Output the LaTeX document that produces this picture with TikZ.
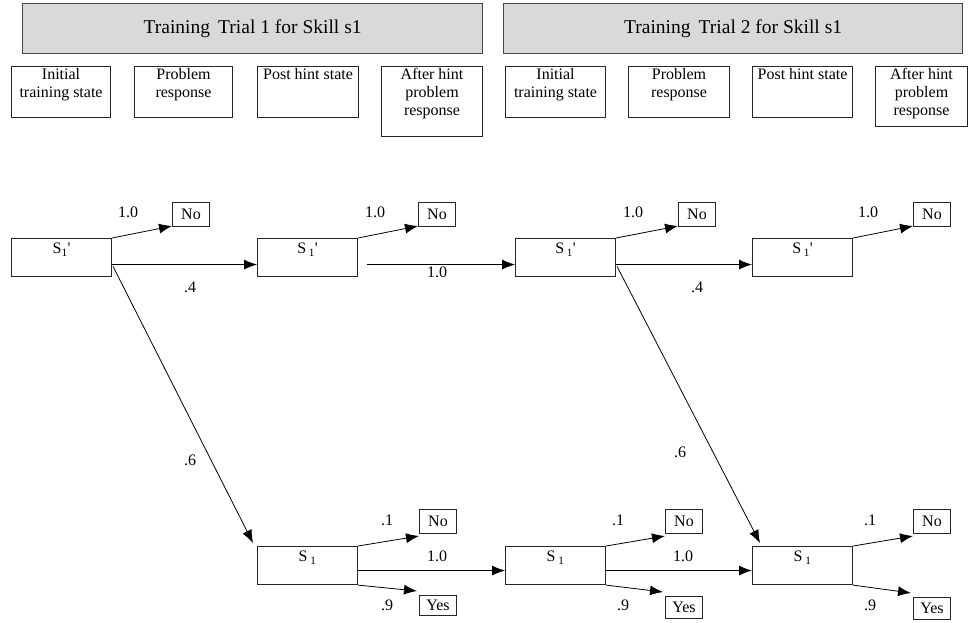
\documentclass[tikz,border=0pt]{standalone}
\usepackage{fontspec}
\setmainfont{Liberation Serif}
\usetikzlibrary{arrows.meta}
\newcommand{\figFont}[0]{\fontsize{16}{18}\selectfont}

\begin{document}
\begin{tikzpicture}[x=1pt, y=-1pt]
  \tikzset{
    trialbox/.style={draw=gray!55!black, fill=gray!30, line width=1.2pt, anchor=north west,
      minimum height=50pt, font=\fontsize{19.5}{22}\selectfont},
    headbox/.style={draw=black!85, line width=1.1pt, anchor=north west, minimum height=51pt},
    headtext/.style={anchor=north, align=center, inner sep=2pt, font=\figFont},
    statebox/.style={draw=black!85, line width=1.1pt, anchor=north west, minimum width=100pt, minimum height=38pt},
    statetext/.style={anchor=north, inner sep=5pt, font=\figFont},
    outbox/.style={draw=black!85, line width=1pt, anchor=north west, minimum width=37pt,
      minimum height=24pt, inner sep=1pt, font=\figFont},
    prob/.style={inner sep=0pt, font=\figFont},
    link/.style={line width=0.8pt, -{Latex[length=13pt,width=10pt]}}
  }
  \useasboundingbox (0,0) rectangle (968,622);

  \node[trialbox, minimum width=460pt] (trialA) at (22,3) {Training\, Trial 1 for Skill s1};
  \node[trialbox, minimum width=459pt] (trialB) at (503,3) {Training\, Trial 2 for Skill s1};

  \node[headbox, minimum width=99pt] (hA1) at (11,66) {};
  \node[headbox, minimum width=98pt] (hA2) at (134,66) {};
  \node[headbox, minimum width=101pt] (hA3) at (257,66) {};
  \node[headbox, minimum width=101pt, minimum height=70pt] (hA4) at (381,66) {};
  \node[headbox, minimum width=100pt] (hB1) at (505,66) {};
  \node[headbox, minimum width=101pt] (hB2) at (628,66) {};
  \node[headbox, minimum width=100pt] (hB3) at (752,66) {};
  \node[headbox, minimum width=92pt, minimum height=60pt] (hB4) at (875,66) {};
  \node[headtext] (hA1t) at (hA1.north) {Initial\\training state};
  \node[headtext] (hA2t) at (hA2.north) {Problem\\response};
  \node[headtext] (hA3t) at (hA3.north) {Post hint state};
  \node[headtext] (hA4t) at (hA4.north) {After hint\\problem\\response};
  \node[headtext] (hB1t) at (hB1.north) {Initial\\training state};
  \node[headtext] (hB2t) at (hB2.north) {Problem\\response};
  \node[headtext] (hB3t) at (hB3.north) {Post hint state};
  \node[headtext] (hB4t) at (hB4.north) {After hint\\problem\\response};

  \node[statebox] (topA) at (11,238) {};
  \node[statebox] (topB) at (257,238) {};
  \node[statebox] (topC) at (515,238) {};
  \node[statebox] (topD) at (752,238) {};
  \node[statebox] (botA) at (257,546) {};
  \node[statebox] (botB) at (505,546) {};
  \node[statebox] (botC) at (752,546) {};
  \node[statetext] (topAt) at (topA.north) {S\textsubscript{1}\textquotesingle};
  \node[statetext] (topBt) at (topB.north) {S\,\textsubscript{1}\textquotesingle};
  \node[statetext] (topCt) at (topC.north) {S\,\textsubscript{1}\textquotesingle};
  \node[statetext] (topDt) at (topD.north) {S\,\textsubscript{1}\textquotesingle};
  \node[statetext] (botAt) at (botA.north) {S\,\textsubscript{1}};
  \node[statetext] (botBt) at (botB.north) {S\,\textsubscript{1}};
  \node[statetext] (botCt) at (botC.north) {S\,\textsubscript{1}};

  \node[outbox] (noA) at (172,202) {No};
  \node[outbox] (noB) at (418,202) {No};
  \node[outbox] (noC) at (678,202) {No};
  \node[outbox] (noD) at (913,202) {No};
  \node[outbox] (noE) at (419,509) {No};
  \node[outbox] (noF) at (665,509) {No};
  \node[outbox] (noG) at (913,509) {No};
  \node[outbox, minimum height=20pt] (yesE) at (419,595) {Yes};
  \node[outbox, minimum height=22pt] (yesF) at (665,596) {Yes};
  \node[outbox, minimum height=22pt] (yesG) at (913,597) {Yes};

  \draw[link] (topA.north east) -- ([yshift=1pt]noA.south west);
  \draw[link] (topB.north east) -- ([yshift=1pt]noB.south west);
  \draw[link] (topC.north east) -- ([yshift=1pt]noC.south west);
  \draw[link] (topD.north east) -- ([yshift=1pt]noD.south west);
  \draw[link] ([yshift=-7pt]topA.east) -- ([yshift=-7pt]topB.west);
  \draw[link] ([xshift=9pt,yshift=-7pt]topB.east) -- ([yshift=-7pt]topC.west);
  \draw[link] ([yshift=-7pt]topC.east) -- ([yshift=-7pt]topD.west);
  \draw[link] ([xshift=1pt,yshift=-9pt]topA.east) -- ([xshift=-4pt,yshift=3pt]botA.north west);
  \draw[link] ([xshift=1pt,yshift=-9pt]topC.east) -- ([xshift=8pt,yshift=3pt]botC.north west);
  \draw[link] (botA.north east) -- ([yshift=-2pt]noE.south west);
  \draw[link] (botB.north east) -- ([yshift=-2pt]noF.south west);
  \draw[link] (botC.north east) -- ([yshift=-2pt]noG.south west);
  \draw[link] (botA.south east) -- ([xshift=-2pt,yshift=4pt]yesE.north west);
  \draw[link] (botB.south east) -- ([xshift=-2pt,yshift=4pt]yesF.north west);
  \draw[link] (botC.south east) -- ([xshift=-2pt,yshift=4pt]yesG.north west);
  \draw[link] ([yshift=-5pt]botA.east) -- ([yshift=-5pt]botB.west);
  \draw[link] ([yshift=-5pt]botB.east) -- ([yshift=-5pt]botC.west);

  \node[prob] (pA) at (128,212) {1.0};
  \node[prob] (pB) at (375,212) {1.0};
  \node[prob] (pC) at (633,212) {1.0};
  \node[prob] (pD) at (868,212) {1.0};
  \node[prob] (pAB) at (190,287) {.4};
  \node[prob] (pBC) at (437,272) {1.0};
  \node[prob] (pCD) at (697,287) {.4};
  \node[prob] (pAd) at (190,460) {.6};
  \node[prob] (pCd) at (680,452) {.6};
  \node[prob] (pEn) at (387,520) {.1};
  \node[prob] (pEF) at (437,556) {1.0};
  \node[prob] (pEy) at (387,605) {.9};
  \node[prob] (pFn) at (618,520) {.1};
  \node[prob] (pFG) at (683,556) {1.0};
  \node[prob] (pFy) at (623,605) {.9};
  \node[prob] (pGn) at (870,520) {.1};
  \node[prob] (pGy) at (870,605) {.9};
\end{tikzpicture}
\end{document}
